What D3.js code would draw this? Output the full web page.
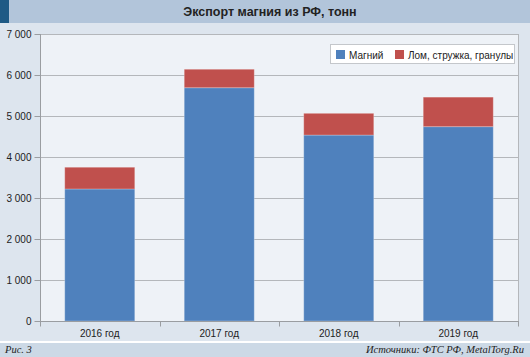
<!DOCTYPE html>
<html><head><meta charset="utf-8">
<script src="https://cdn.jsdelivr.net/npm/d3@7"></script>
<style>html,body{margin:0;padding:0;background:#dde5ee;}svg{display:block;}</style>
</head><body>
<svg id="c" width="530" height="357"></svg>
<script>
const categories = ["2016 год","2017 год","2018 год","2019 год"];
const magnesium = [3220, 5690, 4535, 4740];
const scrap = [530, 450, 530, 720];
const seriesNames = ["Магний","Лом, стружка, гранулы"];
const seriesColors = ["#4f81bd","#c0504d"];
const yTicks = [0,1000,2000,3000,4000,5000,6000,7000];

const svg = d3.select("#c");
const W=530,H=357;
const m={l:40,r:12,t:34,b:36};
const x0=m.l, x1=W-m.r, yTop=m.t, yBot=321;

svg.append("rect").attr("width",W).attr("height",H).attr("fill","#dde5ee");
// title bar
svg.append("rect").attr("x",0).attr("y",0).attr("width",W).attr("height",23).attr("fill","#b2c5da");
svg.append("rect").attr("x",0).attr("y",0).attr("width",9).attr("height",23).attr("fill","#1e5a85");
svg.append("text").attr("x",270).attr("y",16).attr("text-anchor","middle")
  .attr("font-family","Liberation Sans, Arial, sans-serif").attr("font-weight","bold").attr("font-size",12.5)
  .attr("fill","#222").text("Экспорт магния из РФ, тонн");

// plot area
svg.append("rect").attr("x",x0).attr("y",yTop).attr("width",x1-x0).attr("height",yBot-yTop).attr("fill","#eef2f7");

const x = d3.scaleBand().domain(categories).range([x0,x1]).padding(0);
const y = d3.scaleLinear().domain([0,7000]).range([yBot,yTop]);

// grid
svg.append("g").selectAll("line").data(yTicks.slice(1)).join("line")
  .attr("x1",x0).attr("x2",x1).attr("y1",d=>Math.round(y(d))+0.5).attr("y2",d=>Math.round(y(d))+0.5)
  .attr("stroke","#b4b7bb").attr("stroke-width",1);
// right border
svg.append("line").attr("x1",x1+0.5).attr("x2",x1+0.5).attr("y1",yTop).attr("y2",yBot).attr("stroke","#b4b7bb");

// bars
const stack = categories.map((c,i)=>({c, v:[magnesium[i], scrap[i]]}));
const bw = x.bandwidth()*0.586;
const gb = svg.append("g");
stack.forEach(d=>{
  let base=0;
  d.v.forEach((v,k)=>{
    gb.append("rect").attr("x",x(d.c)+x.bandwidth()/2-bw/2).attr("width",bw)
      .attr("y",y(base+v)).attr("height",y(base)-y(base+v))
      .attr("fill",seriesColors[k]).attr("stroke","rgba(255,255,255,0.25)").attr("stroke-width",1);
    base+=v;
  });
});

// y axis
const ya = svg.append("g").attr("transform",`translate(${x0+0.5},0)`)
  .call(d3.axisLeft(y).tickValues(yTicks).tickSize(6).tickPadding(3)
    .tickFormat(d=>d3.format(",")(d).replace(/,/g," ")));
ya.select(".domain").attr("stroke","#9a9da1").attr("d",`M0,${yTop}V${yBot}`);
ya.selectAll(".tick line").attr("stroke","#9a9da1");
ya.selectAll("text").attr("font-family","Liberation Sans, Arial, sans-serif").attr("font-size",10).attr("fill","#222");

// x axis
const xa = svg.append("g").attr("transform",`translate(0,${yBot+0.5})`);
xa.append("line").attr("x1",x0).attr("x2",x1+1).attr("stroke","#9a9da1");
const bounds = categories.map(c=>x(c)).concat([x1]);
xa.selectAll("line.tk").data(bounds).join("line").attr("class","tk")
  .attr("x1",d=>Math.round(d)+0.5).attr("x2",d=>Math.round(d)+0.5).attr("y1",0).attr("y2",5).attr("stroke","#9a9da1");
xa.selectAll("text").data(categories).join("text")
  .attr("x",d=>x(d)+x.bandwidth()/2).attr("y",15).attr("text-anchor","middle")
  .attr("font-family","Liberation Sans, Arial, sans-serif").attr("font-size",10).attr("fill","#222").text(d=>d);

// legend
const lg = svg.append("g");
lg.append("rect").attr("x",330.5).attr("y",44.5).attr("width",184).attr("height",19).attr("fill","#fff").attr("stroke","#c4c7cb");
const lx=[336,395];
seriesNames.forEach((n,k)=>{
  lg.append("rect").attr("x",lx[k]).attr("y",50).attr("width",9).attr("height",9).attr("fill",seriesColors[k]);
  lg.append("text").attr("x",lx[k]+13).attr("y",58.5).attr("font-family","Liberation Sans, Arial, sans-serif")
    .attr("font-size",10).attr("fill","#222").text(n);
});

// bottom strip
svg.append("rect").attr("x",0).attr("y",341).attr("width",W).attr("height",2).attr("fill","#fff");
svg.append("rect").attr("x",0).attr("y",343).attr("width",W).attr("height",14).attr("fill","#ccd9e6");
svg.append("text").attr("x",5).attr("y",353).attr("font-family","Liberation Serif, Times New Roman, serif")
  .attr("font-style","italic").attr("font-size",10.5).attr("fill","#222").text("Рис. 3");
svg.append("text").attr("x",524).attr("y",353).attr("text-anchor","end").attr("font-family","Liberation Serif, Times New Roman, serif")
  .attr("font-style","italic").attr("font-size",10.5).attr("fill","#222").text("Источники: ФТС РФ, MetalTorg.Ru");
</script>
</body></html>
